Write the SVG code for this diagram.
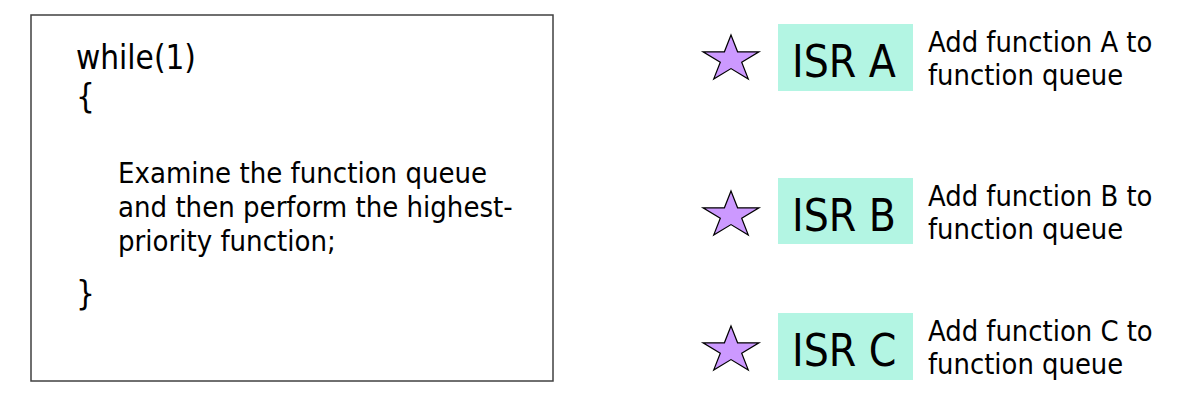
<svg xmlns="http://www.w3.org/2000/svg" width="1190" height="404" viewBox="0 0 1190 404">
<style>
text{font-family:"DejaVu Sans Condensed","DejaVu Sans",sans-serif;font-stretch:condensed;fill:#000}
.code{font-size:33px}
.body{font-size:29px}
.isr{font-size:44px}
.desc{font-size:28.8px}
.isrbox{fill:#B3F5E3}
.star{fill:#CC99FF;stroke:#000;stroke-width:1.2;stroke-linejoin:miter}
.frame{fill:#fff;stroke:#404040;stroke-width:1.5}
</style>
<defs>
<polygon id="star" class="star" points="0,-24.3 6.6,-7.5 28,-7.5 10.7,2.9 17.3,19.7 0,9.3 -17.3,19.7 -10.7,2.9 -28,-7.5 -6.6,-7.5"/>
</defs>
<rect width="1190" height="404" fill="#fff"/>
<g id="mainloop">
<rect class="frame" x="31" y="15" width="522" height="366"/>
<text class="code" x="76" y="69">while(1)</text>
<text class="code" x="76" y="108">{</text>
<text class="body" x="118" y="183">Examine the function queue</text>
<text class="body" x="118" y="217">and then perform the highest-</text>
<text class="body" x="118" y="251">priority function;</text>
<text class="code" x="76" y="305">}</text>
</g>
<g id="isrA">
<use href="#star" x="731" y="59.3"/>
<rect class="isrbox" x="778" y="24" width="135" height="67"/>
<text class="isr" x="792" y="77">ISR A</text>
<text class="desc" x="928" y="52">Add function A to</text>
<text class="desc" x="928" y="85">function queue</text>
</g>
<g id="isrB">
<use href="#star" x="731" y="215.3"/>
<rect class="isrbox" x="778" y="178" width="135" height="66"/>
<text class="isr" x="792" y="231">ISR B</text>
<text class="desc" x="928" y="206">Add function B to</text>
<text class="desc" x="928" y="239">function queue</text>
</g>
<g id="isrC">
<use href="#star" x="731" y="350.3"/>
<rect class="isrbox" x="778" y="313" width="135" height="67"/>
<text class="isr" x="792" y="366">ISR C</text>
<text class="desc" x="928" y="341">Add function C to</text>
<text class="desc" x="928" y="374">function queue</text>
</g>
<g id="connectors"></g>
</svg>
